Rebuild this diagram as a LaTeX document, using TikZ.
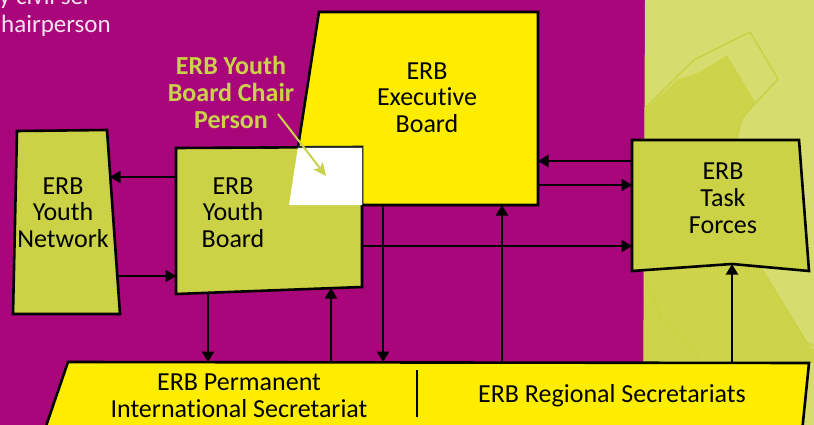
\documentclass[tikz,border=0pt]{standalone}
\usepackage{fontspec}
\setmainfont{Carlito}[Ligatures=NoCommon]
\usetikzlibrary{arrows.meta}
\definecolor{magbg}{HTML}{A8067A}
\definecolor{lightbg}{HTML}{D6DC6E}
\definecolor{decor}{HTML}{CDD44A}
\definecolor{decorline}{HTML}{CAD244}
\definecolor{olivebox}{HTML}{CBD245}
\definecolor{ybox}{HTML}{FFED00}
\definecolor{lbl}{HTML}{C9D24A}
\definecolor{pinktext}{HTML}{F6E3F1}
\begin{document}
\begin{tikzpicture}[x=1pt,y=-1pt,
  boxline/.style={draw=black,line width=2.6pt,line join=miter},
  olive/.style={boxline,fill=olivebox},
  yellowbox/.style={boxline,fill=ybox},
  conn/.style={draw=black,line width=2.3pt,-{Triangle[length=10.5pt,width=12pt]}},
  boxtext/.style={align=center,inner sep=0pt,font=\fontsize{26}{26.7}\selectfont,text=black},
  decoline/.style={draw=decorline,line width=1.5pt,line join=round}]
\useasboundingbox (0,0) rectangle (814,425);
\clip (0,0) rectangle (814,425);
% background
\fill[magbg] (0,0) rectangle (814,425);
\fill[lightbg] (645,0) -- (814,0) -- (814,425) -- (643,425) -- cycle;
\fill[decor] (645,110) -- (677,80) -- (700,72) -- (727,55) -- (755,102) -- (742,120) -- (737,140)
  -- (763,271) -- (808,345) -- (814,350) -- (814,363) -- (644,363) -- cycle;
\draw[decoline] (645,108) -- (694,60) -- (750,32) -- (778,79) -- (742,118) -- (736,140);
\draw[decoline] (763,271) -- (807,343) -- (814,346);
\draw[decoline] (646,280) -- (662,320) -- (693,350) -- (700,363);
% top-left text (cut by the frame, as in the reference)
\node[anchor=base west,inner sep=0pt,text=pinktext,font=\fontsize{25}{26}\selectfont] (topline) at (-1,5) {y civil ser};
\node[anchor=base west,inner sep=0pt,text=pinktext,font=\fontsize{25}{26}\selectfont] (chairword) at (1,33) {hairperson};
% boxes
\path[yellowbox] (319,12) -- (538,12) -- (538,205) -- (289,205) -- cycle;
\path[olive] (176,148) -- (362,147) -- (362,287) -- (176,294) -- cycle;
\fill[white] (298,147) -- (362,147) -- (362,205) -- (289,205) -- cycle;
\draw[black!75,line width=0.8pt] (298,147) -- (362,147) -- (362,205);
\path[olive] (17,131) -- (107,130) -- (120,314) -- (13,314) -- cycle;
\path[olive] (632,140) -- (799,140) -- (809,271) -- (732,264) -- (632,271) -- cycle;
\path[yellowbox] (68,362) -- (809,363) -- (802,432) -- (44,432) -- cycle;
\draw[black,line width=2.2pt] (417,370) -- (417,417);
% texts
\node[boxtext] (yn) at (63,212.75) {ERB\\Youth\\Network};
\node[boxtext] (yb) at (233,212.75) {ERB\\Youth\\Board};
\node[boxtext] (eb) at (427,97.6) {ERB\\Executive\\Board};
\node[boxtext] (tf) at (723,198.25) {ERB\\Task\\Forces};
\node[boxtext] (pis) at (239,395.6) {ERB Permanent\\International Secretariat};
\node[boxtext,anchor=base] (rs) at (612,402) {ERB Regional Secretariats};
% connector end points on the box borders
\coordinate (ybW1) at (176,177);   \coordinate (ynE1) at (110,177);
\coordinate (ynE2) at (117,276);   \coordinate (ybW2) at (176,276);
\coordinate (ybS1) at (208,293);   \coordinate (barN1) at (208,362);
\coordinate (barN2) at (331,362);  \coordinate (ybS2) at (331,288);
\coordinate (ebS1) at (383,205);   \coordinate (barN3) at (383,362);
\coordinate (barN4) at (502,362);  \coordinate (ebS2) at (502,205);
\coordinate (tfW1) at (632,161);   \coordinate (ebE1) at (538,161);
\coordinate (ebE2) at (538,185);   \coordinate (tfW2) at (632,185);
\coordinate (ybE1) at (362,246);   \coordinate (tfW3) at (632,246);
\coordinate (barN5) at (732,363);  \coordinate (tfS) at (732,264);
% connectors
\draw[conn] (ybW1) -- (ynE1);
\draw[conn] (ynE2) -- (ybW2);
\draw[conn] (ybS1) -- (barN1);
\draw[conn] (barN2) -- (ybS2);
\draw[conn] (ebS1) -- (barN3);
\draw[conn] (barN4) -- (ebS2);
\draw[conn] (tfW1) -- (ebE1);
\draw[conn] (ebE2) -- (tfW2);
\draw[conn] (ybE1) -- (tfW3);
\draw[conn] (barN5) -- (tfS);
% chair person label
\node[boxtext,font=\fontsize{26}{27}\selectfont\bfseries,text=lbl] (chairlbl) at (231,92) {ERB Youth\\Board Chair\\Person};
\coordinate (chairfrom) at (278,114);
\coordinate (chairto) at (326,176);
\draw[draw=lbl,line width=2pt,-{Stealth[length=13pt,width=12pt,inset=3pt]}] (chairfrom) -- (chairto);
\end{tikzpicture}
\end{document}
